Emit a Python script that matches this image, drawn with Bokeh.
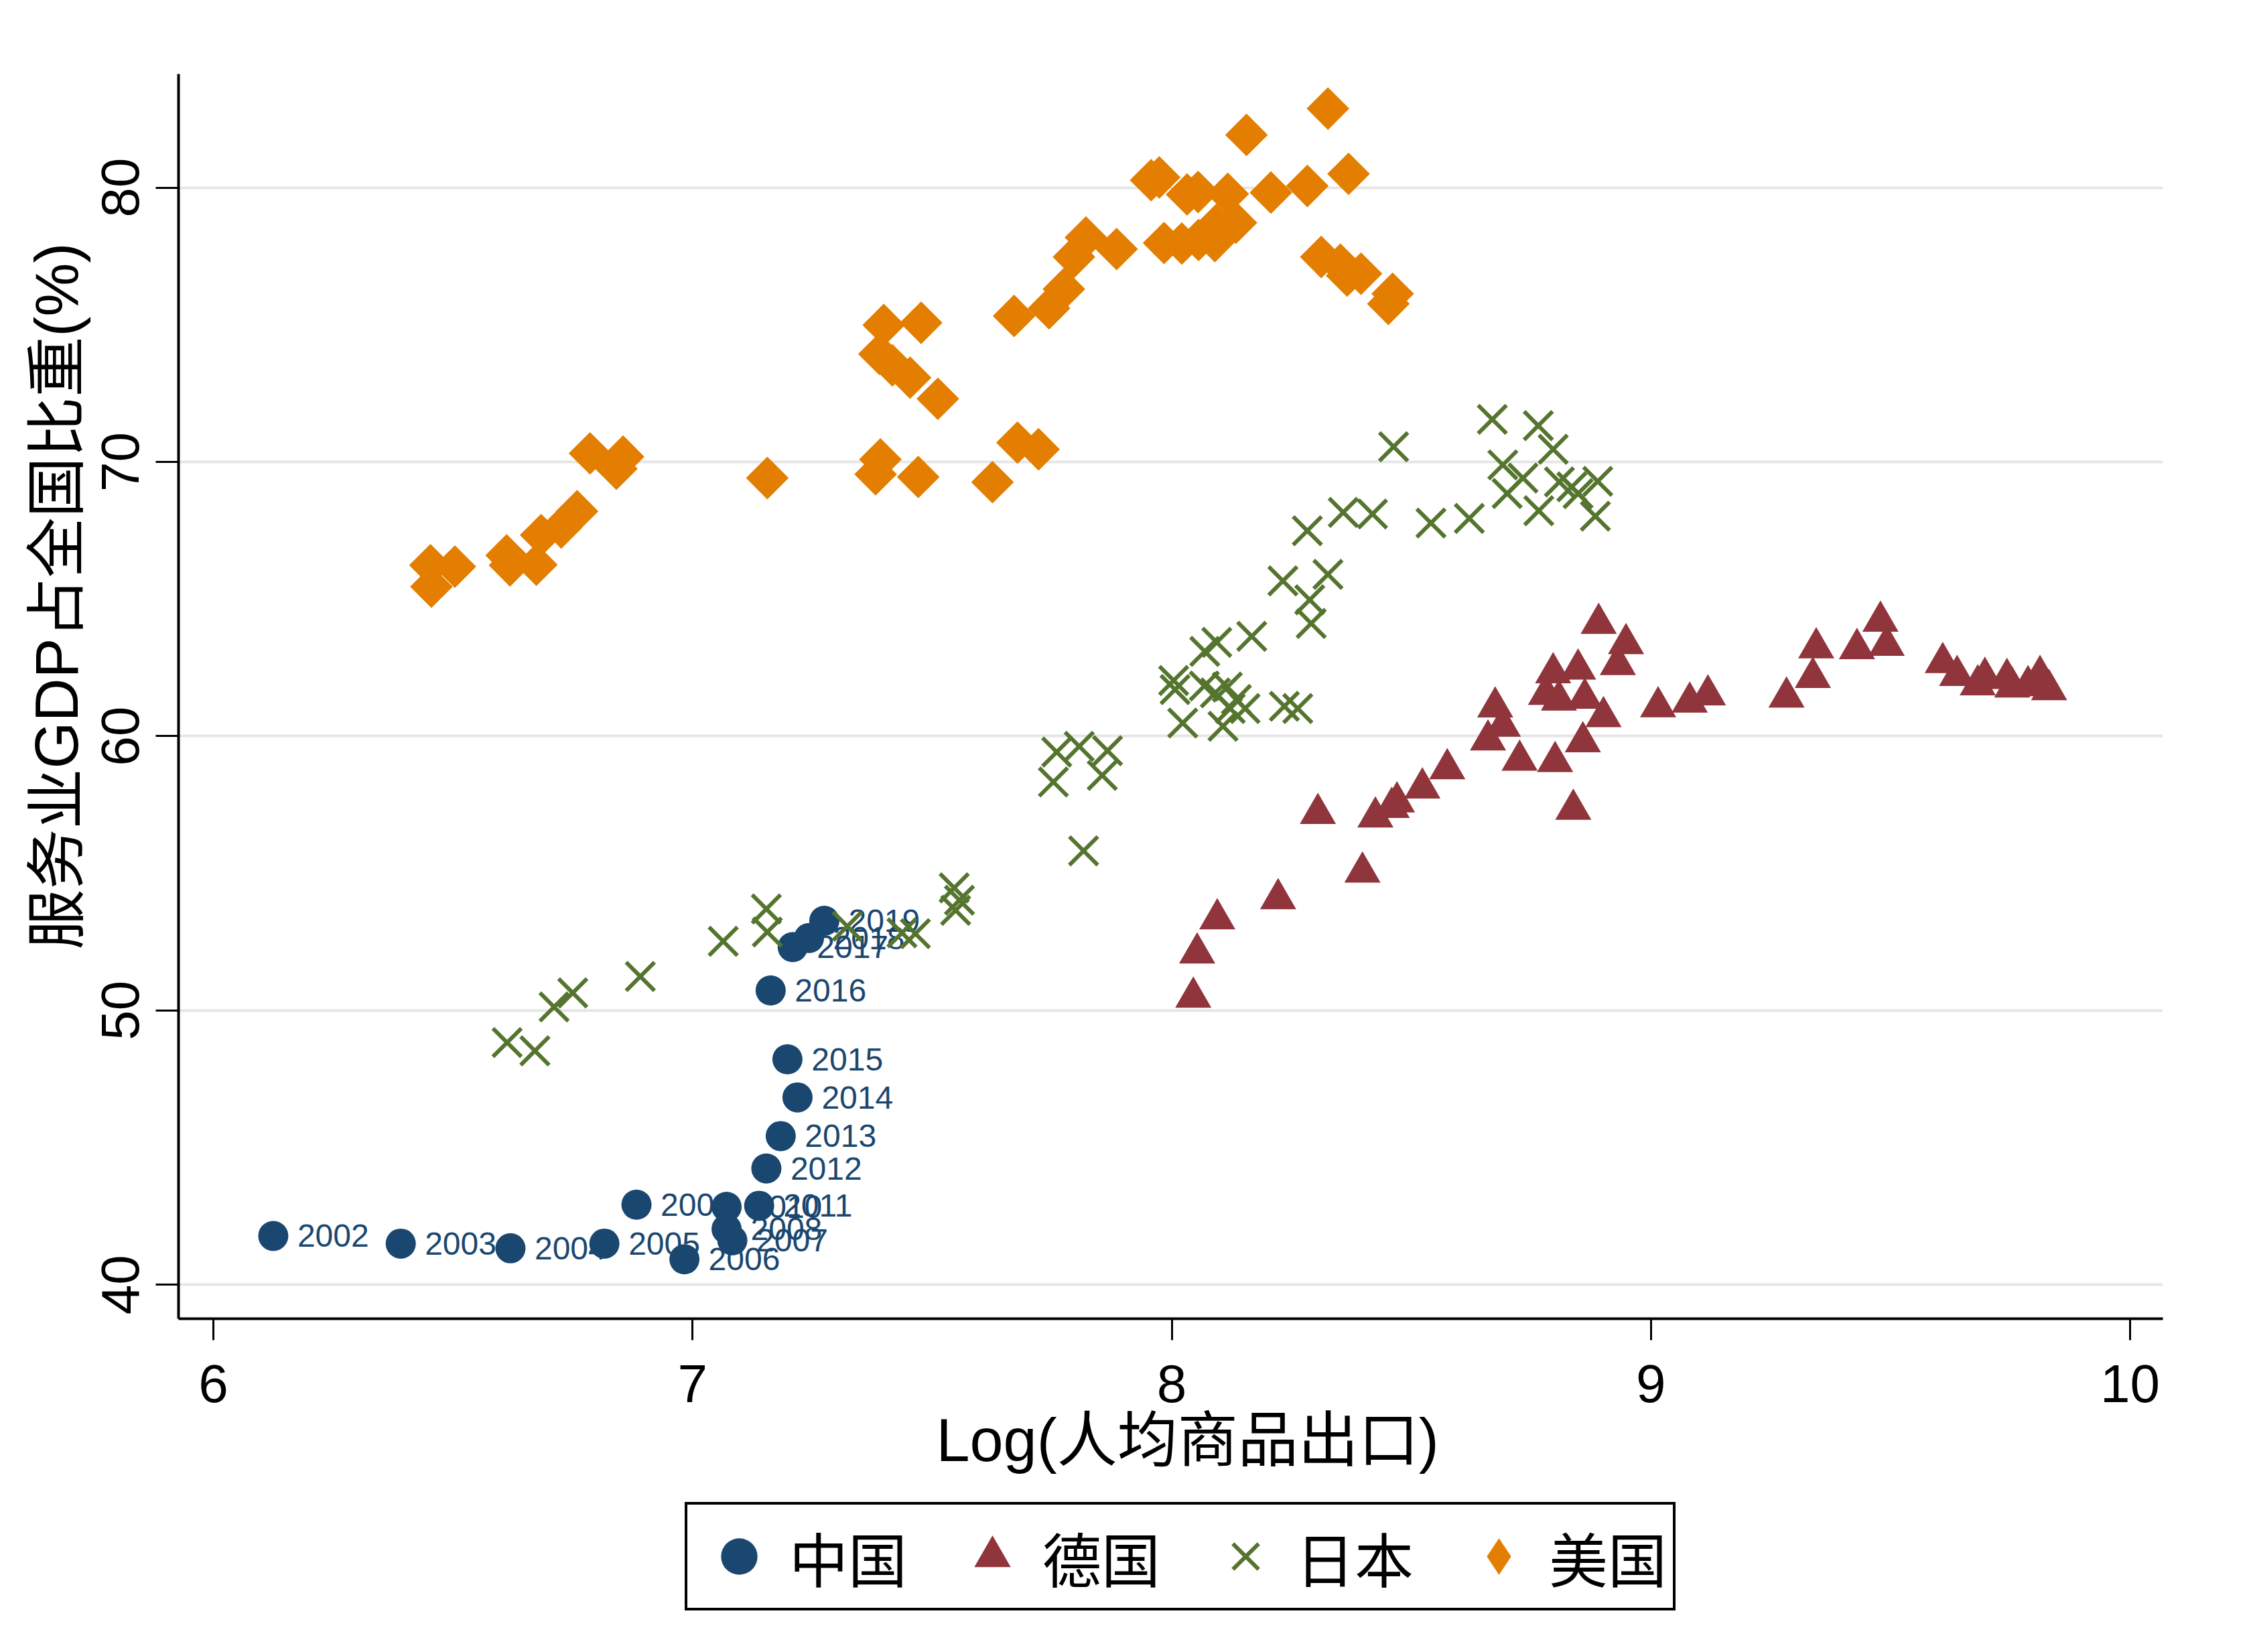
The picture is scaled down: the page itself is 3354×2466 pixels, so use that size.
import numpy as np
from bokeh.plotting import figure
from bokeh.models import FixedTicker, Range1d, Legend, LegendItem, Title, Spacer
from bokeh.layouts import column, row
from bokeh.core.properties import value
from bokeh.embed import file_html
from bokeh.resources import INLINE

# ---------------- data ----------------
china_year = ["2002", "2003", "2004", "2005", "2006", "2007", "2008", "2009", "2010",
              "2011", "2012", "2013", "2014", "2015", "2016", "2017", "2018", "2019"]
china_x = [6.125, 6.391, 6.620, 6.816, 6.983, 7.083, 7.071, 6.883, 7.071,
           7.139, 7.154, 7.184, 7.219, 7.198, 7.163, 7.209, 7.243, 7.275]
china_y = [41.78, 41.50, 41.33, 41.50, 40.93, 41.62, 42.03, 42.92, 42.84,
           42.88, 44.24, 45.42, 46.83, 48.22, 50.73, 52.31, 52.64, 53.27]

germany_x = [8.045, 8.053, 8.095, 8.222, 8.398, 8.305, 8.425, 8.470, 8.459, 8.523,
             8.575, 8.660, 8.675, 8.691, 8.726, 8.800, 8.838, 8.858, 8.901, 8.862,
             8.781, 8.808, 8.796, 8.848, 8.931, 8.891, 8.948, 9.015, 9.081, 9.119,
             9.283, 9.338, 9.345, 9.430, 9.479, 9.492, 9.609, 9.639, 9.682, 9.697,
             9.743, 9.754, 9.787, 9.812, 9.831]
germany_y = [50.48, 52.09, 53.34, 54.07, 55.04, 57.18, 57.05, 57.60, 57.40, 58.11,
             58.81, 59.86, 61.06, 60.36, 59.12, 59.07, 57.33, 59.79, 60.71, 61.38,
             61.52, 61.31, 62.31, 62.44, 62.61, 64.11, 63.37, 61.07, 61.24, 61.50,
             61.42, 62.14, 63.22, 63.19, 64.19, 63.31, 62.68, 62.21, 61.87, 62.14,
             62.10, 61.79, 61.84, 62.21, 61.69]

japan_x = [6.613, 6.671, 6.711, 6.750, 6.891, 7.064, 7.154, 7.156, 7.323, 7.437,
           7.465, 7.546, 7.557, 7.549, 7.816, 7.753, 7.760, 7.807, 7.855, 7.866,
           8.004, 8.007, 8.023, 8.068, 8.069, 8.091, 8.094, 8.107, 8.116, 8.122,
           8.135, 8.153, 8.167, 8.235, 8.263, 8.232, 8.326, 8.288, 8.291, 8.283,
           8.358, 8.419, 8.463, 8.541, 8.621, 8.669, 8.691, 8.700, 8.733, 8.765,
           8.766, 8.796, 8.809, 8.835, 8.848, 8.884, 8.889]
japan_y = [48.83, 48.53, 50.13, 50.64, 51.24, 52.52, 53.70, 52.86, 53.07, 52.83,
           52.80, 54.47, 54.02, 53.65, 55.82, 58.33, 59.42, 59.63, 58.57, 59.47,
           62.03, 61.70, 60.48, 61.83, 63.09, 61.58, 63.42, 60.36, 61.79, 61.01,
           61.34, 61.01, 63.64, 61.09, 61.01, 65.66, 65.90, 64.97, 64.11, 67.49,
           68.16, 68.10, 70.55, 67.77, 67.94, 71.55, 69.89, 68.85, 69.41, 71.32,
           68.22, 70.46, 69.27, 69.09, 68.84, 68.02, 69.29]

usa_x = [6.453, 6.504, 6.455, 6.612, 6.619, 6.674, 6.684, 6.726, 6.759, 6.786,
         6.855, 6.841, 7.156, 7.392, 7.382, 7.471, 7.626, 7.678, 7.722, 7.399,
         7.477, 7.390, 7.417, 7.454, 7.512, 7.671, 7.744, 7.775, 7.796, 7.821,
         7.885, 7.957, 7.974, 7.984, 8.021, 8.032, 8.055, 8.056, 8.090, 8.117,
         8.134, 8.093, 8.156, 8.207, 8.283, 8.326, 8.369, 8.312, 8.352, 8.366,
         8.395, 8.461, 8.452]
usa_y = [66.23, 66.18, 65.45, 66.59, 66.23, 66.25, 67.33, 67.61, 68.20, 70.31,
         70.19, 69.75, 69.41, 70.09, 69.55, 69.45, 69.26, 70.70, 70.46, 74.99,
         75.07, 73.93, 73.52, 73.07, 72.30, 75.32, 75.60, 76.30, 77.47, 78.18,
         77.76, 80.27, 80.37, 77.98, 77.96, 79.75, 79.84, 78.09, 78.05, 79.77,
         78.72, 78.64, 81.92, 79.82, 80.06, 82.88, 80.50, 77.47, 77.19, 76.79,
         76.86, 76.13, 75.76]

country_names = ["中国", "德国", "日本", "美国"]
x_ticks = [6, 7, 8, 9, 10]
y_ticks = [40, 50, 60, 70, 80]
x_title = "Log(人均商品出口)"
y_title = "服务业GDP占全国比重(%)"

# ---------------- style ----------------
NAVY = "#1a476f"
MAROON = "#90353b"
GREEN = "#55752f"
ORANGE = "#e37e00"
LATIN = "Liberation Sans"
MIXED = "'Liberation Sans', 'Noto Sans CJK SC'"
CJK = "Noto Sans CJK SC"

p = figure(width=3338, height=2240,
           x_range=Range1d(5.9273, 10.0685), y_range=Range1d(38.762, 84.14),
           output_backend="svg", toolbar_location=None,
           min_border_left=266, min_border_right=110,
           min_border_top=110, min_border_bottom=272,
           background_fill_color="white", border_fill_color="white")
p.outline_line_color = None

# axes
for ax in (p.xaxis[0], p.yaxis[0]):
    ax.axis_line_color = "black"
    ax.axis_line_width = 4
    ax.major_tick_line_color = "black"
    ax.major_tick_line_width = 3
    ax.major_tick_in = 0
    ax.minor_tick_line_color = None
    ax.major_label_text_font = LATIN
    ax.major_label_text_font_size = "80px"
    ax.major_label_text_color = "black"

p.xaxis.ticker = FixedTicker(ticks=x_ticks)
p.yaxis.ticker = FixedTicker(ticks=y_ticks)
p.xaxis.major_tick_out = 32
p.yaxis.major_tick_out = 34
p.xaxis.major_label_standoff = 37
p.yaxis.major_label_standoff = 25
p.yaxis.major_label_orientation = "vertical"

p.xgrid.visible = False
p.ygrid.grid_line_color = "#e6e6e6"
p.ygrid.grid_line_width = 4

# axis titles as side titles (placed like the reference)
xt = Title(text=x_title, align="left", offset=1131, standoff=4,
           text_font=MIXED, text_font_size="90px", text_font_style="normal",
           text_color="black")
p.add_layout(xt, "below")
yt = Title(text=y_title, align="left", offset=551, standoff=30,
           text_font=MIXED, text_font_size="90px", text_font_style="normal",
           text_color="black")
p.add_layout(yt, "left")

# glyphs
p.scatter(china_x, china_y, marker="circle", size=45,
          fill_color=NAVY, line_color=None)
p.text(x=china_x, y=china_y, text=china_year, x_offset=36,
       text_baseline="middle", text_align="left",
       text_font=value(LATIN), text_font_size="48px", text_color=NAVY)
p.scatter(germany_x, germany_y, marker="triangle", size=54,
          fill_color=MAROON, line_color=None)
p.scatter(japan_x, japan_y, marker="x", size=60,
          line_color=GREEN, line_width=6)
p.scatter(usa_x, usa_y, marker="square", size=45, angle=np.pi/4,
          fill_color=ORANGE, line_color=None)

# ---------------- legend (its own small panel below the plot) ----------------
lf = figure(width=1490, height=170, x_range=Range1d(0, 1), y_range=Range1d(0, 1),
            output_backend="svg", toolbar_location=None,
            min_border=0, min_border_left=0, min_border_right=0,
            min_border_top=0, min_border_bottom=0,
            background_fill_color="white", border_fill_color="white")
lf.axis.visible = False
lf.grid.visible = False
lf.outline_line_color = None
# key-only renderers (NaN point: nothing is drawn in the panel itself)
k_cn = lf.scatter(x=[np.nan], y=[np.nan], marker="circle", fill_color=NAVY, line_color=None)
k_de = lf.scatter(x=[np.nan], y=[np.nan], marker="triangle", fill_color=MAROON, line_color=None)
k_jp = lf.scatter(x=[np.nan], y=[np.nan], marker="x", line_color=GREEN, line_width=6)
k_us = lf.scatter(x=[np.nan], y=[np.nan], marker="diamond", fill_color=ORANGE, line_color=None)

legend = Legend(items=[LegendItem(label=country_names[0], renderers=[k_cn]),
                       LegendItem(label=country_names[1], renderers=[k_de]),
                       LegendItem(label=country_names[2], renderers=[k_jp]),
                       LegendItem(label=country_names[3], renderers=[k_us])],
                orientation="horizontal", location="top_left",
                glyph_width=136, glyph_height=136, label_standoff=7,
                spacing=59, padding=9, margin=2,
                border_line_color="black", border_line_width=4, border_line_alpha=1.0,
                background_fill_color="white", background_fill_alpha=1.0,
                label_text_font=CJK, label_text_font_size="88px",
                label_text_color="black")
lf.add_layout(legend)

layout = column(p, row(Spacer(width=1020, height=10), lf))
open("out.html", "w").write(file_html(layout, INLINE))
